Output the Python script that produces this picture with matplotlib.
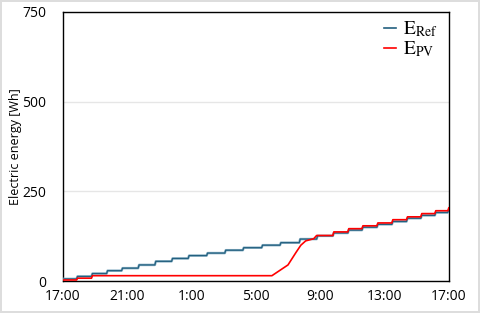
import matplotlib.pyplot as plt
from matplotlib.lines import Line2D

# hours after 17:00 where the reference meter steps up, and the level after each step [Wh]
ref_times = [0, 0.85, 1.78, 2.72, 3.65, 4.68, 5.72, 6.76, 7.79, 8.94, 10.07, 11.19, 12.36,
             13.50, 14.70, 15.78, 16.79, 17.72, 18.60, 19.53, 20.46, 21.37, 22.26, 23.13, 23.94]
ref_levels = [6, 13, 21, 29, 36, 45, 55, 63, 71, 78, 86, 93, 100,
              107, 117, 126, 134, 142, 150, 158, 166, 175, 183, 191, 198]

# PV case: a few steps in the evening, flat night, ramp in the morning, then steps again
pv_early_times = [0, 0.85, 1.78]
pv_early_levels = [3, 8, 15]
pv_ramp_times = [13.0, 14.0, 14.5, 14.8, 15.1, 15.6]
pv_ramp_levels = [15, 45, 80, 100, 112, 118]
pv_late_times = [15.78, 16.79, 17.72, 18.60, 19.53, 20.46, 21.37, 22.26, 23.13, 23.94]
pv_late_levels = [127, 137, 146, 154, 162, 171, 179, 188, 196, 204]

tick_hours = [0, 4, 8, 12, 16, 20, 24]
tick_labels = ['17:00', '21:00', '1:00', '5:00', '9:00', '13:00', '17:00']


def stairs(times, levels, end, jump=0.06):
    """Turn step times/levels into line vertices (short slanted risers)."""
    xs, ys = [], []
    for i, (t, v) in enumerate(zip(times, levels)):
        if i > 0:
            xs.append(t)
            ys.append(levels[i - 1])
            t = t + jump
        xs.append(t)
        ys.append(v)
    xs.append(end)
    ys.append(levels[-1])
    return xs, ys


plt.rcParams['font.family'] = ['Open Sans', 'DejaVu Sans']
plt.rcParams['mathtext.fontset'] = 'stix'

fig = plt.figure(figsize=(4.8, 3.13), dpi=100)
fig.patch.set_edgecolor('#dddddd')
fig.patch.set_linewidth(1.5)
ax = fig.add_axes([0.131, 0.102, 0.804, 0.86])

rx, ry = stairs(ref_times, ref_levels, 24)

ex, ey = stairs(pv_early_times, pv_early_levels, pv_ramp_times[0])
lx, ly = stairs(pv_late_times, pv_late_levels, 24)
px = ex + pv_ramp_times[1:] + lx
py = ey + pv_ramp_levels[1:] + ly

ax.plot(rx, ry, color='#8db3c7', lw=1.8, solid_capstyle='butt', zorder=3)
ax.plot(rx, ry, color='#23607f', lw=0.9, zorder=4)
ax.plot(px, py, color='#ff0000', lw=1.2, zorder=5)

ax.set_xlim(0, 24)
ax.set_ylim(0, 750)
ax.set_xticks(tick_hours)
ax.set_xticklabels(tick_labels)
ax.set_yticks([0, 250, 500, 750])
ax.tick_params(axis='both', length=0, labelsize=10)
ax.tick_params(axis='y', pad=12)
ax.tick_params(axis='x', pad=6)
ax.yaxis.grid(True, color='#e6e6e6', lw=1)
ax.set_axisbelow(True)
for s in ax.spines.values():
    s.set_color('black')
    s.set_linewidth(1.0)

ax.set_ylabel('Electric energy [Wh]', fontsize=9)
ax.yaxis.set_label_coords(-0.105, 0.5)

handles = [Line2D([], [], color='#23607f', lw=1.2),
           Line2D([], [], color='#ff0000', lw=1.2)]
ax.legend(handles, [r'$\mathrm{E}_{\mathrm{Ref}}$', r'$\mathrm{E}_{\mathrm{PV}}$'],
          loc='upper right', frameon=False, fontsize=14, handlelength=0.6,
          handletextpad=0.35, labelspacing=0.0, borderaxespad=0.0,
          bbox_to_anchor=(0.99, 1.0))

fig.savefig('out.png', dpi=100)
